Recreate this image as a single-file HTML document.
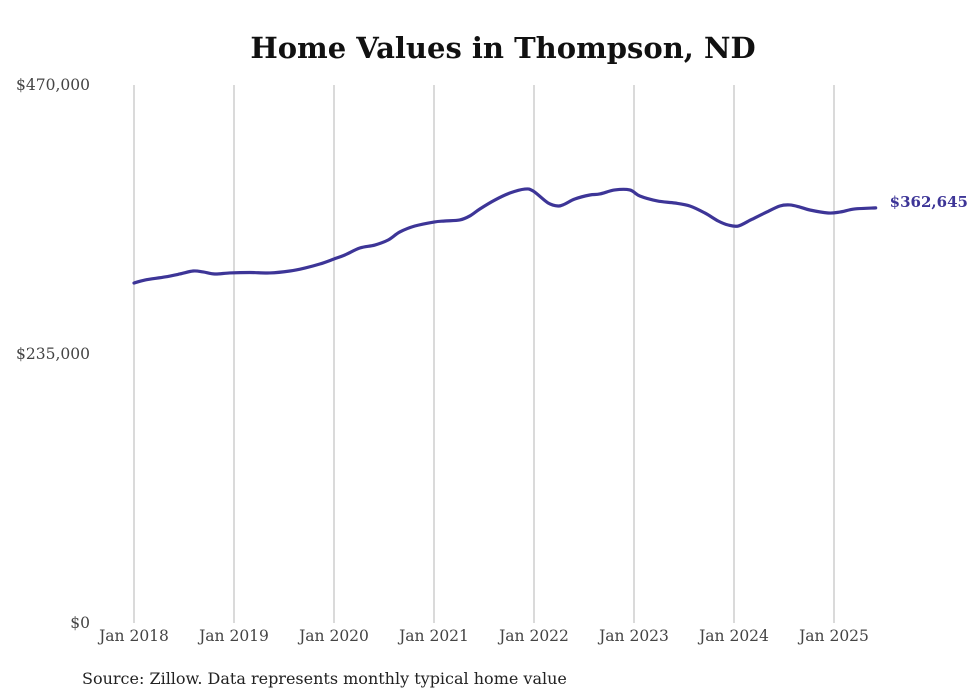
<!DOCTYPE html>
<html><head><meta charset="utf-8"><style>
body{margin:0;background:#fff;}
svg{display:block;}
</style></head><body>
<svg id="chart" width="980" height="699" xmlns="http://www.w3.org/2000/svg">
<text x="503" y="58" text-anchor="middle" font-family="'DejaVu Serif','Liberation Serif',serif" font-weight="bold" font-size="29" fill="#111">Home Values in Thompson, ND</text>
<g id="grid"></g><g id="yaxis"></g><g id="xaxis"></g><g id="series"></g>
<text x="82" y="684" font-family="'DejaVu Serif','Liberation Serif',serif" font-size="16" fill="#222">Source: Zillow. Data represents monthly typical home value</text>
</svg>
<script>
const monthIdx=[0,1.3,3.7,5.5,7.1,8.3,9.7,11.5,13.9,16.3,18.7,20.5,22.3,24,25.3,27.1,28.9,30.5,31.9,33.7,36,37.3,39.1,40.3,41.5,43.3,45.1,46.9,47.9,49.7,50.9,51.7,52.9,54.7,55.9,57.7,59.5,60.7,62.8,64.9,66.7,68.5,70.1,71.3,72.5,74,75.7,77.5,78.7,79.9,81.1,83.3,84.7,86.5,89];
const values=[297000,299600,302300,304900,307500,306700,304900,305800,306200,305800,307500,310100,313600,318000,321500,327600,330200,334600,341600,346800,350300,351200,352100,355600,361700,369500,375600,379100,377400,366900,364300,366000,370400,373900,374800,378300,378300,373000,368700,366900,364300,358200,351200,347700,346800,352100,358200,364300,365200,363400,360800,358200,359000,361700,362645];
const xTickLabels=["Jan 2018","Jan 2019","Jan 2020","Jan 2021","Jan 2022","Jan 2023","Jan 2024","Jan 2025"];
const yTicks=[0,235000,470000];
const yTickLabels=["$0","$235,000","$470,000"];
const lastLabel="$362,645";
const NS="http://www.w3.org/2000/svg";
const x=m=>134+m*100/12;
const y=v=>623-v/470000*538;
function mk(t,a,p){const e=document.createElementNS(NS,t);for(const k in a)e.setAttribute(k,a[k]);document.getElementById(p).appendChild(e);return e;}
xTickLabels.forEach((l,i)=>{
 const g=mk("line",{x1:x(i*12),x2:x(i*12),y1:85,y2:623,stroke:"#b4b4b4","stroke-width":1},"grid");
 
 
 const t=mk("text",{x:x(i*12),y:641,"text-anchor":"middle","font-family":"'DejaVu Serif','Liberation Serif',serif","font-size":15.5,fill:"#444"},"xaxis");
 t.textContent=l;
 
 
});
yTicks.forEach((v,i)=>{
 const t=mk("text",{x:90,y:y(v)+5,"text-anchor":"end","font-family":"'DejaVu Serif','Liberation Serif',serif","font-size":15.5,fill:"#444"},"yaxis");
 t.textContent=yTickLabels[i];
 
 
});
const pts=monthIdx.map((m,i)=>[x(m),y(values[i])]);
let d="M"+pts[0][0]+","+pts[0][1];
for(let i=0;i<pts.length-1;i++){
 const p0=pts[i-1]||pts[i],p1=pts[i],p2=pts[i+1],p3=pts[i+2]||p2;
 const c1=[p1[0]+(p2[0]-p0[0])/6,p1[1]+(p2[1]-p0[1])/6],c2=[p2[0]-(p3[0]-p1[0])/6,p2[1]-(p3[1]-p1[1])/6];
 d+=`C${c1[0]},${c1[1]} ${c2[0]},${c2[1]} ${p2[0]},${p2[1]}`;
}
const line=mk("path",{d:d,fill:"none",stroke:"#3d3597","stroke-width":3.2,"stroke-linejoin":"round","stroke-linecap":"round"},"series");


const lp=pts[pts.length-1];
const lt=mk("text",{x:lp[0]+14,y:lp[1]-1,"font-family":"'DejaVu Serif','Liberation Serif',serif","font-weight":"bold","font-size":15,fill:"#3d3597"},"series");
lt.textContent=lastLabel;


</script>
</body></html>
